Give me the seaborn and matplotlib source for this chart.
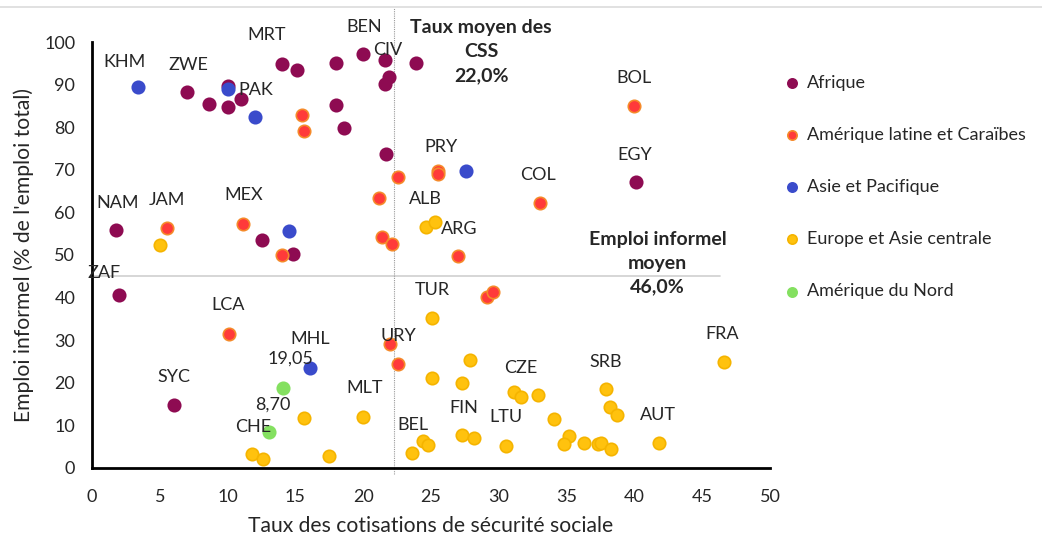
import pandas as pd
import matplotlib
matplotlib.use("Agg")
import matplotlib.pyplot as plt
import seaborn as sns

# Data (x = taux des CSS, y = emploi informel %)
afr_x = [14.0, 15.1, 18.0, 20.0, 21.6, 21.9, 21.6, 23.9, 7.0, 10.05, 8.65, 10.05, 11.0,
         18.0, 18.6, 21.7, 1.8, 12.5, 14.8, 2.0, 6.05, 40.1]
afr_y = [94.8, 93.4, 95.0, 97.1, 95.7, 91.8, 90.1, 95.0, 88.3, 89.7, 85.4, 84.7, 86.7,
         85.1, 79.7, 73.6, 55.9, 53.6, 50.2, 40.5, 14.8, 67.1]

lat_x = [15.5, 15.6, 22.6, 21.2, 5.5, 11.1, 21.4, 22.1, 14.0, 10.1, 22.0, 22.6,
         40.0, 25.5, 25.5, 33.0, 27.0, 29.1, 29.55]
lat_y = [82.8, 79.2, 68.4, 63.3, 56.3, 57.3, 54.2, 52.6, 50.0, 31.5, 29.0, 24.3,
         84.9, 69.8, 68.9, 62.1, 49.8, 40.1, 41.2]

asia_x = [3.4, 10.05, 12.0, 14.5, 27.6, 16.1]
asia_y = [89.4, 88.9, 82.3, 55.6, 69.6, 23.4]

eur_x = [5.0, 24.6, 25.3, 25.05, 25.1, 15.65, 20.0, 11.8, 12.6, 17.5, 23.6, 24.4, 24.8,
         27.9, 27.3, 31.1, 31.6, 32.9, 34.1, 37.9, 38.2, 38.7, 46.6, 41.8, 27.3, 28.2,
         30.5, 35.2, 34.8, 36.3, 37.3, 37.5, 38.3]
eur_y = [52.4, 56.6, 57.8, 35.1, 21.1, 11.7, 11.9, 3.3, 2.0, 2.8, 3.6, 6.2, 5.4,
         25.3, 20.0, 17.8, 16.6, 17.2, 11.4, 18.5, 14.2, 12.4, 24.9, 5.9, 7.7, 7.0,
         5.1, 7.5, 5.6, 5.9, 5.7, 5.9, 4.4]

nam_x = [14.1, 13.05]
nam_y = [18.7, 8.5]

regions = ["Afrique", "Amérique latine et Caraïbes", "Asie et Pacifique",
           "Europe et Asie centrale", "Amérique du Nord"]
fill_colors = ["#8E0B52", "#FF3A3A", "#3A4BCB", "#FFC20E", "#84E060"]
edge_colors = ["#8E0B52", "#F58A2A", "#3A4BCB", "#F5B400", "#84E060"]
all_x = [afr_x, lat_x, asia_x, eur_x, nam_x]
all_y = [afr_y, lat_y, asia_y, eur_y, nam_y]

# country labels as placed on the chart
labels = ["KHM", "ZWE", "MRT", "BEN", "CIV", "PAK", "BOL", "PRY", "EGY", "COL", "NAM",
          "JAM", "MEX", "ALB", "ARG", "ZAF", "TUR", "LCA", "MHL", "URY", "19,05", "FRA",
          "SRB", "CZE", "SYC", "MLT", "8,70", "FIN", "AUT", "LTU", "BEL", "CHE"]
label_x = [2.4, 7.1, 12.9, 20.1, 21.8, 12.1, 40.0, 25.7, 40.0, 32.9, 1.9,
           5.5, 11.2, 24.6, 27.1, 0.9, 25.1, 10.0, 16.1, 22.6, 14.6, 46.5,
           37.9, 31.6, 6.05, 20.1, 13.3, 27.4, 41.7, 30.5, 23.7, 11.9]
label_y = [95.3, 94.6, 101.6, 103.5, 98.1, 88.7, 91.5, 75.4, 73.5, 68.8, 62.2,
           62.9, 64.1, 63.1, 56.1, 45.8, 41.8, 38.3, 30.3, 31.0, 25.6, 31.5,
           24.9, 23.5, 21.4, 18.8, 14.8, 14.1, 12.4, 12.0, 10.1, 9.6]

mean_css = 22.3
mean_informel = 45.0

rows = []
for reg, xs, ys in zip(regions, all_x, all_y):
    for x, y in zip(xs, ys):
        rows.append({"region": reg, "x": x, "y": y})
df = pd.DataFrame(rows)

sns.set_style("white")
plt.rcParams['font.family'] = ['Lato', 'DejaVu Sans']
txt = "#262626"

fig = plt.figure(figsize=(10.42, 5.39), dpi=100)
ax = fig.add_axes([0.0883, 0.132, 0.739 - 0.0883, 0.922 - 0.132])

# mean lines
ax.plot([0, 46.3], [mean_informel, mean_informel], color="#cfcfcf", lw=1.2, zorder=1)
ax.plot([mean_css, mean_css], [-1.5, 108], color="#9a9a9a", lw=0.8, ls=(0, (1, 1)),
        zorder=1, clip_on=False)

for reg, fc, ec in zip(regions, fill_colors, edge_colors):
    sub = df[df["region"] == reg]
    sns.scatterplot(data=sub, x="x", y="y", ax=ax, color=fc, edgecolor=ec,
                    linewidth=1.2, s=80, zorder=3, label=reg, clip_on=False)

for lab, lx, ly in zip(labels, label_x, label_y):
    ax.text(lx, ly, lab, ha="center", va="center", fontsize=13, color=txt, clip_on=False)

ax.text(28.7, 97.7, "Taux moyen des\nCSS\n22,0%", ha="center", va="center",
        fontsize=14, fontweight="bold", color=txt, linespacing=1.5)
ax.text(41.7, 48.1, "Emploi informel\nmoyen\n46,0%", ha="center", va="center",
        fontsize=14, fontweight="bold", color=txt, linespacing=1.5)

ax.set_xlim(0, 50)
ax.set_ylim(0, 100)
ax.set_xticks(range(0, 51, 5))
ax.set_yticks(range(0, 101, 10))
ax.tick_params(axis="both", length=0, labelsize=13, colors=txt, pad=15)
ax.tick_params(axis="y", pad=12)
for side in ["top", "right"]:
    ax.spines[side].set_visible(False)
for side in ["left", "bottom"]:
    ax.spines[side].set_color("black")
    ax.spines[side].set_linewidth(2)

ax.set_xlabel("Taux des cotisations de sécurité sociale", fontsize=15.2, color=txt)
ax.set_ylabel("Emploi informel (% de l'emploi total)", fontsize=15.2, color=txt)
ax.xaxis.set_label_coords(0.5, -0.112)
ax.yaxis.set_label_coords(-0.085, 0.5)

leg = ax.legend(loc="upper left", bbox_to_anchor=(1.0, 0.94), frameon=False,
                fontsize=13, labelspacing=2.0, handletextpad=0.05, markerscale=0.75,
                labelcolor=txt, borderaxespad=0.0, handlelength=1.6)

# thin grey border line on top of the chart
fig.add_artist(plt.Line2D([0, 1], [1 - 7 / 539, 1 - 7 / 539], color="#dcdcdc", lw=1.2))

fig.savefig("out.png", dpi=100)
